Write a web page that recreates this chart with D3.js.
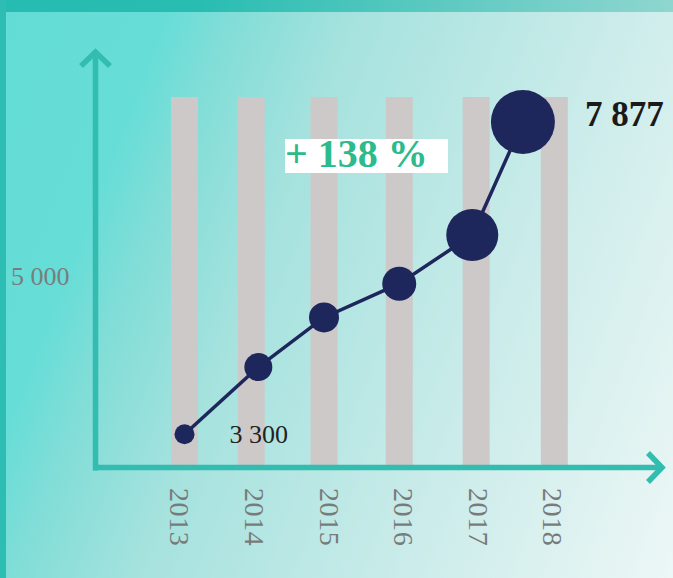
<!DOCTYPE html>
<html>
<head>
<meta charset="utf-8">
<script src="https://cdn.jsdelivr.net/npm/d3@7"></script>
<style>
  body { margin: 0; background: #fff; }
  svg { display: block; }
  text { font-family: "Liberation Serif", "Times New Roman", serif; }
</style>
</head>
<body>
<svg width="673" height="578"></svg>
<script>
// data
const years = [2013, 2014, 2015, 2016, 2017, 2018];
const pointDates = [2013, 2014.1, 2015, 2016, 2016.95, 2017.6];
const values = [3300, 3980, 4570, 5020, 5750, 7877];
const weights = [100, 196, 225, 289, 676, 1024];
const yTicks = [5000];

const svg = d3.select("svg"),
    width = +svg.attr("width"),
    height = +svg.attr("height");

const fmt = d3.formatLocale({decimal: ",", thousands: " ", grouping: [3], currency: ["", ""]}).format(",d");

const defs = svg.append("defs");
const bg = defs.append("linearGradient")
    .attr("id", "bg")
    .attr("gradientUnits", "userSpaceOnUse")
    .attr("x1", 0).attr("y1", 0).attr("x2", 777).attr("y2", 299);
[[0, "#64dcd6"], [0.19, "#66ddd7"], [0.26, "#80ddd7"], [0.4, "#a5e2de"], [0.68, "#c8ebe9"], [1, "#ecf7f6"]]
    .forEach(s => bg.append("stop").attr("offset", s[0]).attr("stop-color", s[1]));
const band = defs.append("linearGradient").attr("id", "band");
[[0, "#27bcb1"], [0.3, "#29bdb2"], [1, "#8fd6d0"]]
    .forEach(s => band.append("stop").attr("offset", s[0]).attr("stop-color", s[1]));

svg.append("rect").attr("width", width).attr("height", height).attr("fill", "url(#bg)");
svg.append("rect").attr("width", width).attr("height", 12).attr("fill", "url(#band)");
svg.append("rect").attr("width", 6).attr("height", height).attr("fill", "#2dbdb2");

// scales
const xBar = d3.scalePow().exponent(1.064).domain([0, 5]).range([184.5, 554.3]);
const xLabel = d3.scalePoint().domain(years).range([180, 553]);
const y = d3.scaleLog().domain([3300, 7877]).range([434.3, 122]);
const r = d3.scaleSqrt().domain([0, 1024]).range([0, 32]);
const barW = 27, barTop = 97, baseY = 467.5;

const g = svg.append("g");

// bars
g.append("g")
    .selectAll("rect")
    .data(years)
    .enter().append("rect")
    .attr("x", d => xBar(d - years[0]) - barW / 2)
    .attr("y", barTop)
    .attr("width", barW)
    .attr("height", baseY - barTop)
    .attr("fill", "#cdc9c9");

// axes
const axisColor = "#33bdb0";
g.append("line")
    .attr("x1", 95.5).attr("y1", 52).attr("x2", 95.5).attr("y2", baseY + 3)
    .attr("stroke", axisColor).attr("stroke-width", 5.5);
g.append("line")
    .attr("x1", 93).attr("y1", baseY).attr("x2", 662).attr("y2", baseY)
    .attr("stroke", axisColor).attr("stroke-width", 5.5);
g.append("polyline")
    .attr("points", "81,66 95.5,52 110,66")
    .attr("fill", "none").attr("stroke", axisColor).attr("stroke-width", 5.5);
g.append("polyline")
    .attr("points", "648,453 662,467.5 648,482")
    .attr("fill", "none").attr("stroke", axisColor).attr("stroke-width", 5.5);

// y tick label
g.append("g")
    .selectAll("text")
    .data(yTicks)
    .enter().append("text")
    .attr("x", 11)
    .attr("y", d => y(d))
    .attr("font-size", 26)
    .attr("fill", "#7a7d7d")
    .text(d => fmt(d));

// year labels
g.append("g")
    .selectAll("text")
    .data(years)
    .enter().append("text")
    .attr("transform", d => `translate(${xLabel(d)},488) rotate(90)`)
    .attr("dy", "0.34em")
    .attr("font-size", 28)
    .attr("letter-spacing", 0.6)
    .attr("fill", "#787b7b")
    .text(d => d);

// line + dots
const pts = values.map((v, i) => ({x: xBar(pointDates[i] - years[0]), y: y(v), r: r(weights[i]), v: v}));
g.append("path")
    .datum(pts)
    .attr("fill", "none")
    .attr("stroke", "#1e275c")
    .attr("stroke-width", 3.5)
    .attr("d", d3.line().x(d => d.x).y(d => d.y));
g.append("g")
    .selectAll("circle")
    .data(pts)
    .enter().append("circle")
    .attr("cx", d => d.x)
    .attr("cy", d => d.y)
    .attr("r", d => d.r)
    .attr("fill", "#1e275c");

// value annotations
const first = pts[0], last = pts[pts.length - 1];
g.append("text")
    .attr("x", first.x + 45).attr("y", first.y + 9)
    .attr("font-size", 26).attr("fill", "#222")
    .text(fmt(first.v));
g.append("text")
    .attr("x", last.x + 62).attr("y", last.y + 4)
    .attr("font-size", 35).attr("font-weight", "bold").attr("fill", "#1a1a1a")
    .text(fmt(last.v));

// growth badge
const growth = Math.floor((last.v - first.v) / first.v * 100);
g.append("rect")
    .attr("x", 285).attr("y", 139).attr("width", 163).attr("height", 34)
    .attr("fill", "#fff");
g.append("text")
    .attr("x", 285).attr("y", 167)
    .attr("font-size", 40).attr("font-weight", "bold").attr("fill", "#2bbb8c")
    .text("+ " + growth + " %");
</script>
</body>
</html>
